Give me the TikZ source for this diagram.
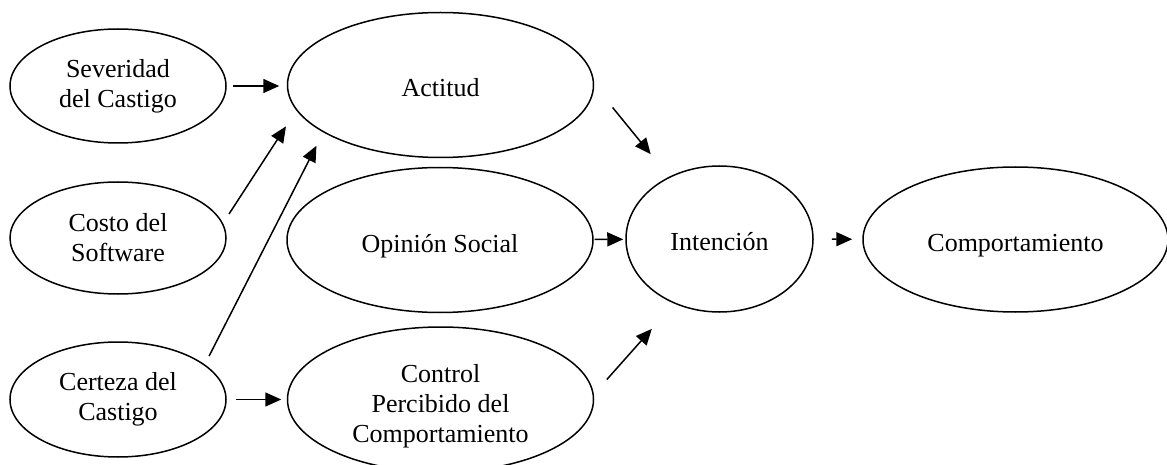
\documentclass[tikz,border=0pt]{standalone}
\usepackage{fontspec}
\setmainfont{Liberation Serif}
\usetikzlibrary{shapes.geometric,arrows.meta}
\begin{document}
\begin{tikzpicture}[x=1pt,y=-1pt,
  oval/.style={draw, ellipse, line width=1.5pt, inner sep=0pt, align=center,
    font=\fontsize{26}{30}\selectfont},
  oneline/.style={text height=24pt, text depth=0pt},
  smalloval/.style={oval, minimum width=216pt, minimum height=114pt},
  bigoval/.style={oval, minimum width=306pt, minimum height=145pt},
  arr/.style={line width=1.5pt, -{Triangle[length=16pt,width=14pt]}}]
\useasboundingbox[fill=white] (0,0) rectangle (1167,465);
\node[smalloval] (sev) at (118,86) {Severidad\\del Castigo};
\node[smalloval, minimum height=112pt] (cos) at (118,238) {Costo del\\Software};
\node[smalloval, minimum height=115pt] (cer) at (118,399.5) {Certeza del\\Castigo};
\node[bigoval, oneline] (act) at (440.5,85) {Actitud};
\node[bigoval, oneline] (opi) at (440,240) {Opinión Social};
\node[bigoval] (con) at (440.5,399.5) {\rule{0pt}{32pt}Control\\Percibido del\\Comportamiento};
\node[oval, oneline, minimum width=187pt, minimum height=146pt] (int) at (719.5,239) {Intención};
\node[bigoval, oneline, minimum width=305pt] (comp) at (1015.5,239.5) {Comportamiento};
\draw[arr, shorten <=6pt, shorten >=7.5pt] (sev.east) -- (sev.east -| act.west);
\draw[arr, shorten <=11pt, shorten >=19pt] (cos.8.6) -- (act.190.2);
\draw[arr, shorten <=9.5pt, shorten >=15pt] (cer.22.3) -- (act.202.3);
\draw[arr, shorten <=9pt, shorten >=5.5pt] (cer) -- (con);
\draw[arr, shorten <=29pt, shorten >=29pt] (act.0) -- (int.129.3);
\draw[arr, shorten <=1pt, shorten >=2pt] (opi) -- (int);
\draw[arr, shorten <=19.6pt, shorten >=33.7pt] (con.2.7) -- (int.235.2);
\draw[arr, shorten <=18pt, shorten >=10pt] (int) -- (comp);
\end{tikzpicture}
\end{document}
